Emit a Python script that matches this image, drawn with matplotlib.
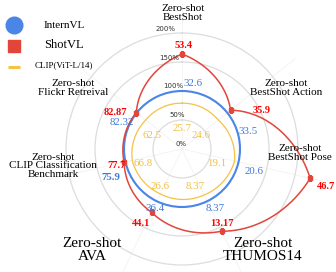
import numpy as np
import matplotlib.pyplot as plt
from matplotlib.lines import Line2D

# Radar of zero-shot results, each axis normalised by InternVL (=100%)
categories = ["Zero-shot\nBestShot", "Zero-shot\nBestShot Action", "Zero-shot\nBestShot Pose",
              "Zero-shot\nTHUMOS14", "Zero-shot\nAVA",
              "Zero-shot\nCLIP Classification\nBenchmark", "Zero-shot\nFlickr Retreival"]
internvl = [32.6, 33.5, 20.6, 8.37, 36.4, 75.9, 82.32]
shotvl = [53.4, 35.9, 46.7, 13.17, 44.1, 77.7, 82.87]
clip = [25.7, 24.6, 19.1, 8.37, 26.6, 66.8, 62.5]
# CLIP curve as drawn in the figure, in % of InternVL
clip_pos = [79, 80, 93, 88, 86, 88, 80]
ring_ticks = [0, 50, 100, 150, 200]

serif = "Liberation Serif"
c_blue, c_red, c_yel = "#4a86e8", "#e2463a", "#f4c244"

W, H = 336, 272
cx, cy, unit, rmax = 182, 149, 58, 2.5   # pixel centre, px per 100%

fig = plt.figure(figsize=(W / 100, H / 100), dpi=100)
R = unit * rmax
ax = fig.add_axes([(cx - R) / W, (H - cy - R) / H, 2 * R / W, 2 * R / H], projection="polar")
ax.set_theta_offset(np.pi / 2)
ax.set_theta_direction(-1)
ax.set_ylim(0, rmax)
ax.spines["polar"].set_visible(False)
ax.patch.set_alpha(0)

n = len(categories)
theta = np.arange(n) * 2 * np.pi / n
ax.set_xticks(theta)
ax.set_xticklabels([])
ax.set_yticks([t / 100 for t in ring_ticks[1:]])
ax.set_yticklabels([])
ax.xaxis.grid(True, color="#f2f2f2", lw=0.6)
ax.yaxis.grid(True, color="#dcdcdc", lw=0.9)

r_int = np.array(internvl) / np.array(internvl)
r_shot = np.array(shotvl) / np.array(internvl)
r_clip = np.array(clip_pos) / 100.0

th = np.append(theta, 2 * np.pi)
for r, col, lw, z in [(r_clip, c_yel, 0.9, 3), (r_int, c_blue, 1.5, 4), (r_shot, c_red, 1.1, 5)]:
    ln, = ax.plot(th, np.append(r, r[0]), color=col, lw=lw, zorder=z)
    ln.get_path()._interpolation_steps = 60   # draw as polar arcs
ax.plot(theta, r_shot, ls="", marker="s", ms=3.2, color=c_red, zorder=6)

# ring labels
for t in ring_ticks:
    ax.text(np.deg2rad(-8), t / 100 + 0.09, f"{t}%", fontsize=5, color="#333333",
            ha="center", va="center", zorder=7)

# value labels, offsets in pixels from the point
off_red = [(2, 8), (31, 0), (16, -8), (0, 8), (-10, -11), (-8, -3), (-21, 0)]
off_blue = [(11, 8), (21, -19), (16, -10), (8, -7), (-2, -7), (-15, -16), (-15, -10)]
off_yel = [(0, -25), (-17, -15), (-18, -2), (-9, 8), (0, 7), (11, -3), (6, -15)]
for i in range(n):
    ax.annotate(f"{shotvl[i]:g}", (theta[i], r_shot[i]),
                xytext=off_red[i], textcoords="offset pixels", ha="center", va="center",
                color="#ff0000", fontsize=7.5, fontweight="bold", family=serif, zorder=8)
    ax.annotate(f"{internvl[i]:g}", (theta[i], r_int[i]),
                xytext=off_blue[i], textcoords="offset pixels", ha="center", va="center",
                color="#3d78d8", fontsize=7.8, family=serif, zorder=8,
                fontweight="bold" if i == 5 else "normal")
    ax.annotate(f"{clip[i]:g}", (theta[i], r_clip[i]),
                xytext=off_yel[i], textcoords="offset pixels", ha="center", va="center",
                color="#f0c040", fontsize=7.8, family=serif, zorder=8)

# category labels (pixel centres in the figure)
cat_pos = [(183, 13), (286, 88), (300, 153), (263, 250), (92, 250), (53, 166), (73, 88)]
cat_size = [8, 8, 8, 11, 11, 8, 8]
for lab, (x, y), s in zip(categories, cat_pos, cat_size):
    fig.text(x / W, 1 - y / H, lab, ha="center", va="center", fontsize=s,
             family=serif, linespacing=0.95)

# legend
leg = [(Line2D([14 / W], [1 - 25 / H], marker="o", ms=12, color=c_blue, ls=""), "InternVL", 8, 25),
       (Line2D([14 / W], [1 - 46 / H], marker="s", ms=8.5, color=c_red, ls=""), "ShotVL", 9, 45),
       (Line2D([8 / W, 20 / W], [1 - 67 / H] * 2, color=c_yel, lw=2.2, solid_capstyle="butt"),
        "CLIP(ViT-L/14)", 6.5, 65)]
for h, lab, s, y in leg:
    h.set_transform(fig.transFigure)
    fig.add_artist(h)
    fig.text(64 / W, 1 - y / H, lab, ha="center", va="center", fontsize=s, family=serif)

fig.savefig("out.png", dpi=100)
